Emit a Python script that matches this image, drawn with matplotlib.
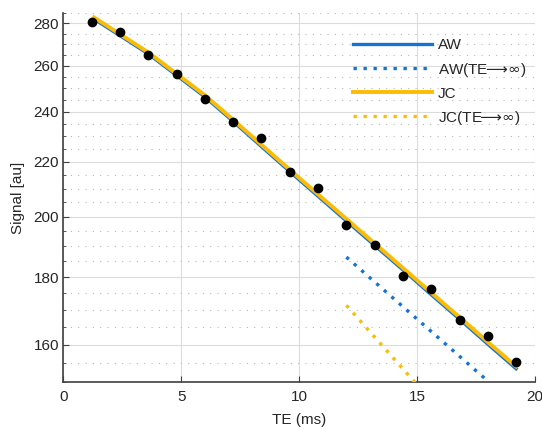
import numpy as np
import matplotlib.pyplot as plt
from matplotlib.ticker import FixedLocator, FixedFormatter, NullFormatter

plt.rcParams['font.family'] = ['Liberation Sans', 'DejaVu Sans']
plt.rcParams['mathtext.fontset'] = 'dejavusans'

# measured signal
te = [1.2, 2.4, 3.6, 4.8, 6.0, 7.2, 8.4, 9.6, 10.8, 12.0, 13.2, 14.4, 15.6, 16.8, 18.0, 19.2]
signal = [280.6, 275.9, 265.0, 256.1, 245.4, 235.6, 229.2, 216.3, 210.1,
          197.0, 190.3, 180.4, 176.2, 167.0, 162.5, 155.4]

# model fits
te_fit = [1.3, 2.4, 3.6, 4.8, 6.0, 7.2, 8.4, 9.6, 10.8, 12.0, 13.2, 14.4, 15.6, 16.8, 18.0, 19.2]
aw_fit = [282.0, 274.0, 265.4, 255.7, 246.3, 236.0, 225.9, 216.3, 207.2,
          198.5, 190.2, 182.3, 174.6, 167.3, 160.2, 153.5]
jc_fit = [282.8, 274.7, 266.1, 256.4, 247.0, 236.7, 226.6, 217.0, 207.9,
          199.2, 190.9, 182.9, 175.2, 167.9, 160.8, 154.1]

# long-TE asymptotes
te_inf = [12.0, 19.2]
aw_inf = [186.4, 143.9]
jc_inf = [171.4, 123.0]

yticks = [160, 180, 200, 220, 240, 260, 280]
yminor = [v for v in range(150, 290, 5) if v not in yticks]
xticks = [0, 5, 10, 15, 20]

blue = '#1474D4'
yellow = '#FCBC05'
txt = '#262626'
arrow = r'$\!\!\longrightarrow\!\infty$'

fig = plt.figure(figsize=(5.42, 4.29), dpi=100)
ax = fig.add_axes([0.117, 0.1096, 0.870, 0.8601])

ax.plot(te_fit, aw_fit, color=blue, lw=2.4, label='AW', zorder=3)
ax.plot(te_inf, aw_inf, color=blue, lw=2.4, ls=(0, (1, 2.0)), label='AW(TE' + arrow + ')', zorder=3)
ax.plot(te_fit, jc_fit, color=yellow, lw=2.8, label='JC', zorder=4)
ax.plot(te_inf, jc_inf, color=yellow, lw=2.4, ls=(0, (1, 2.0)), label='JC(TE' + arrow + ')', zorder=4)
ax.plot(te, signal, 'o', color='black', ms=6, zorder=5)

ax.set_yscale('log')
ax.set_xlim(0, 20)
ax.set_ylim(150, 285)
ax.xaxis.set_major_locator(FixedLocator(xticks))
ax.yaxis.set_major_locator(FixedLocator(yticks))
ax.yaxis.set_major_formatter(FixedFormatter([str(v) for v in yticks]))
ax.yaxis.set_minor_locator(FixedLocator(yminor))
ax.yaxis.set_minor_formatter(NullFormatter())
ax.xaxis.set_minor_locator(FixedLocator([]))

ax.set_axisbelow(True)
ax.grid(True, which='major', color='#dcdcdc', lw=0.8)
ax.yaxis.grid(True, which='minor', color='#b8b8b8', lw=0.8, ls=(0, (1, 5.6)))

for s in ['top', 'right']:
    ax.spines[s].set_visible(False)
for s in ['left', 'bottom']:
    ax.spines[s].set_color('#404040')
    ax.spines[s].set_linewidth(1.2)

ax.tick_params(which='major', direction='in', length=4, width=0.8, color='#404040',
               labelsize=11, labelcolor=txt)
ax.tick_params(axis='x', pad=6)
ax.tick_params(axis='y', pad=3)
ax.tick_params(which='minor', direction='in', length=2, width=0.6, color='#404040')

ax.set_xlabel('TE (ms)', fontsize=11, color=txt, labelpad=6)
ax.set_ylabel('Signal [au]', fontsize=11, color=txt, labelpad=6)

ax.legend(loc='upper left', bbox_to_anchor=(0.6134, 0.931), frameon=False,
          fontsize=11, handlelength=5.2, handletextpad=0.37, labelspacing=0.53,
          borderpad=0, borderaxespad=0, labelcolor=txt)

fig.savefig('out.png', dpi=100)
